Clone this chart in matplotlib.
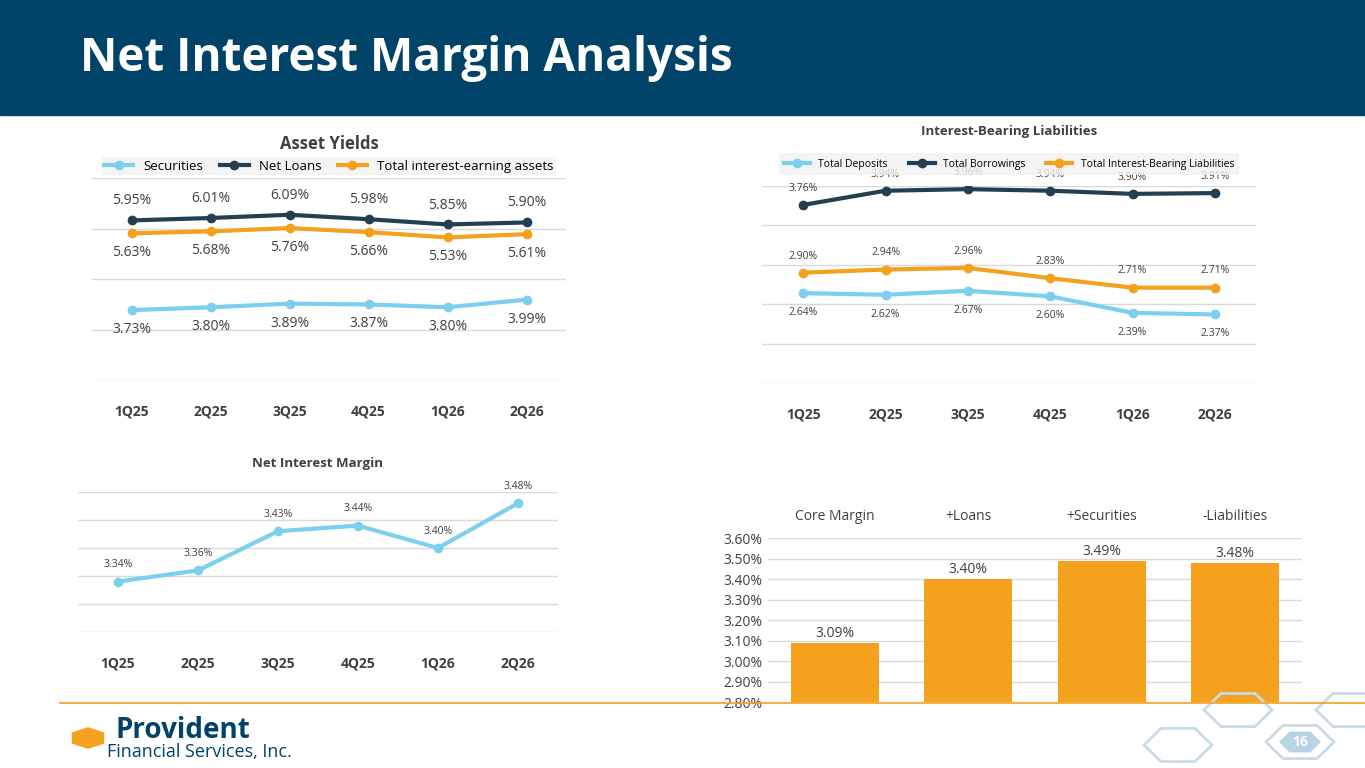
import matplotlib
import numpy as np

matplotlib.use("Agg")
import matplotlib.pyplot as plt
from matplotlib.patches import Rectangle, RegularPolygon

W, H = 1365, 768
QUARTERS = ["1Q25", "2Q25", "3Q25", "4Q25", "1Q26", "2Q26"]
NAVY = "#004369"
TEXT = "#404040"
GRID = "#d9d9d9"


def px_axes(fig, left, top, right, bottom):
    """Add an axes placed by pixel box."""
    return fig.add_axes([left / W, 1 - bottom / H, (right - left) / W, (bottom - top) / H])


def style_line_axis(axis, ylim, step, fontsize=10):
    axis.set_ylim(*ylim)
    axis.set_yticks(np.arange(ylim[0], ylim[1] + 1e-9, step))
    axis.set_xlim(-0.5, len(QUARTERS) - 0.5)
    axis.set_xticks(range(len(QUARTERS)))
    axis.set_xticklabels(QUARTERS, fontsize=fontsize, fontweight="bold", color=TEXT)
    axis.tick_params(axis="y", left=False, labelleft=False)
    axis.tick_params(axis="x", bottom=False, pad=14)
    axis.grid(axis="y", color=GRID, linewidth=1)
    axis.set_axisbelow(True)
    for spine in axis.spines.values():
        spine.set_visible(False)


def label_points(axis, values, offset, fontsize):
    for x, v in enumerate(values):
        axis.annotate(f"{v:.2f}%", (x, v), xytext=(0, offset), textcoords="offset points",
                      ha="center", va="center", fontsize=fontsize, color=TEXT)


fig = plt.figure(figsize=(W / 100, H / 100), dpi=100)
plt.rcParams["font.family"] = ["Open Sans", "DejaVu Sans"]

# header band
fig.patches.append(Rectangle((0, 1 - 115 / H), 1, 115 / H, transform=fig.transFigure, color=NAVY))
fig.text(80 / W, 1 - 58 / H, "Net Interest Margin Analysis", color="white", fontsize=33,
         fontweight="bold", va="center")

# Asset yields
asset = {
    "Securities": ([3.73, 3.80, 3.89, 3.87, 3.80, 3.99], "#7dcfee", -14),
    "Net Loans": ([5.95, 6.01, 6.09, 5.98, 5.85, 5.90], "#243f52", 14),
    "Total interest-earning assets": ([5.63, 5.68, 5.76, 5.66, 5.53, 5.61], "#f4a11d", -14),
}
axis = px_axes(fig, 92, 178, 566, 380)
style_line_axis(axis, (2.0, 7.0), 1.25, fontsize=10)
for name, (values, color, offset) in asset.items():
    axis.plot(range(6), values, color=color, linewidth=3, marker="o", markersize=6, label=name)
    label_points(axis, values, offset, 10)
axis.legend(loc="lower center", bbox_to_anchor=(0.5, 0.98), ncol=3, frameon=True, fontsize=9.5,
            facecolor="#f2f2f2", edgecolor="none", handlelength=2.2, borderpad=0.2, columnspacing=1.2)
fig.text(329 / W, 1 - 144 / H, "Asset Yields", ha="center", va="center", fontsize=12,
         fontweight="bold", color=TEXT)

# Interest-bearing liabilities
liabilities = {
    "Total Deposits": ([2.64, 2.62, 2.67, 2.60, 2.39, 2.37], "#7dcfee", -14),
    "Total Borrowings": ([3.76, 3.94, 3.96, 3.94, 3.90, 3.91], "#243f52", 12),
    "Total Interest-Bearing Liabilities": ([2.90, 2.94, 2.96, 2.83, 2.71, 2.71], "#f4a11d", 12),
}
axis = px_axes(fig, 762, 186, 1256, 383)
style_line_axis(axis, (1.5, 4.0), 0.5, fontsize=10)
for name, (values, color, offset) in liabilities.items():
    axis.plot(range(6), values, color=color, linewidth=3, marker="o", markersize=6, label=name)
    label_points(axis, values, offset, 7.5)
axis.legend(loc="lower center", bbox_to_anchor=(0.5, 1.03), ncol=3, frameon=True, fontsize=7.5,
            facecolor="#f2f2f2", edgecolor="none", handlelength=2.5, borderpad=0.5, columnspacing=2)
fig.text(1009 / W, 1 - 132 / H, "Interest-Bearing Liabilities", ha="center", va="center",
         fontsize=9.5, fontweight="bold", color=TEXT)

# Net interest margin
nim = [3.34, 3.36, 3.43, 3.44, 3.40, 3.48]
axis = px_axes(fig, 78, 492, 558, 632)
style_line_axis(axis, (3.25, 3.50), 0.05, fontsize=10)
axis.plot(range(6), nim, color="#7dcfee", linewidth=3, marker="o", markersize=6)
label_points(axis, nim, 12, 7.5)
fig.text(318 / W, 1 - 464 / H, "Net Interest Margin", ha="center", va="center", fontsize=9.5,
         fontweight="bold", color=TEXT)

# Margin walk bars
steps = ["Core Margin", "+Loans", "+Securities", "-Liabilities"]
margins = [3.09, 3.40, 3.49, 3.48]
axis = px_axes(fig, 768, 538, 1302, 702)
axis.bar(range(4), [m - 2.8 for m in margins], bottom=2.8, width=0.66, color="#f4a11d", zorder=3)
for x, m in enumerate(margins):
    axis.text(x, m + 0.01, f"{m:.2f}%", ha="center", va="bottom", fontsize=10, color=TEXT)
axis.set_ylim(2.8, 3.6)
axis.set_xlim(-0.5, 3.5)
axis.set_yticks(np.arange(2.8, 3.601, 0.1))
axis.set_yticklabels([f"{t:.2f}%" for t in np.arange(2.8, 3.601, 0.1)], fontsize=10, color=TEXT)
axis.set_xticks(range(4))
axis.set_xticklabels(steps, fontsize=10, color=TEXT)
axis.xaxis.tick_top()
axis.tick_params(axis="both", length=0, pad=10)
axis.tick_params(axis="y", pad=4)
axis.grid(axis="y", color=GRID, linewidth=1, zorder=0)
for spine in axis.spines.values():
    spine.set_visible(False)

# footer
fig.add_artist(plt.Line2D([60 / W, 1], [1 - 703 / H] * 2, color="#f4a11d", linewidth=1.2))
fig.text(115 / W, 1 - 730 / H, "Provident", fontsize=20, fontweight="bold", color=NAVY, va="center")
fig.text(107 / W, 1 - 752 / H, "Financial Services, Inc.", fontsize=13, color=NAVY, va="center")
fig.patches.append(RegularPolygon((88 / W, 1 - 738 / H), 6, radius=18 / W, orientation=0,
                                  transform=fig.transFigure, color="#f4a11d"))
for cx, cy in [(1300, 742), (1178, 745), (1238, 710), (1350, 710), (1300, 790)]:
    fig.patches.append(RegularPolygon((cx / W, 1 - cy / H), 6, radius=34 / W, orientation=np.pi / 6,
                                      transform=fig.transFigure, fill=False, edgecolor="#c9dbe6",
                                      linewidth=2))
fig.patches.append(RegularPolygon((1300 / W, 1 - 742 / H), 6, radius=20 / W, orientation=np.pi / 6,
                                  transform=fig.transFigure, color="#b8d3e3"))
fig.text(1300 / W, 1 - 742 / H, "16", ha="center", va="center", fontsize=10, fontweight="bold",
         color="white")

fig.savefig("out.png", dpi=100)
plt.close(fig)
